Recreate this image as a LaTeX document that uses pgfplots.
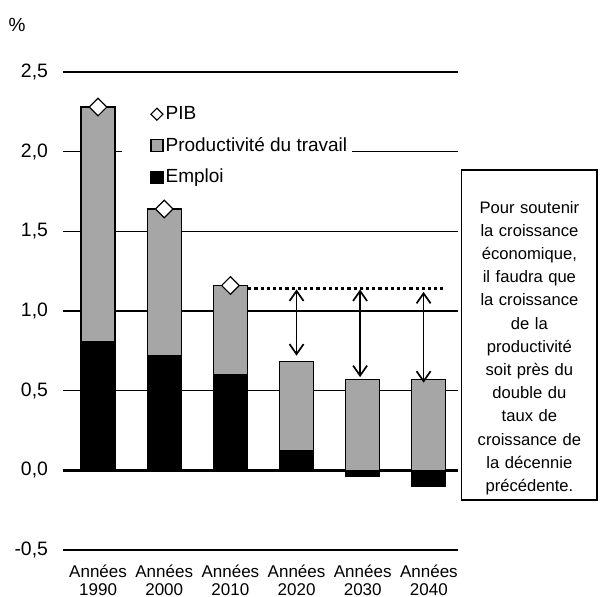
\documentclass[border=0pt]{standalone}
\usepackage{fontspec}
\setmainfont{Liberation Sans}
\usepackage{pgfplots}
\usepackage{pgfplotstable}
\pgfplotsset{compat=1.18}
\usetikzlibrary{arrows.meta}

\definecolor{grisprod}{RGB}{166,166,166}

% contributions a la croissance du PIB, en %
\pgfplotstableread{
x emploi productivite pib
0 0.81 1.47 2.28
1 0.72 0.92 1.64
2 0.60 0.56 1.16
3 0.125 0.56 0.685
4 -0.04 0.57 0.53
5 -0.10 0.57 0.47
}\decennies

\begin{document}
\begin{tikzpicture}
\begin{axis}[
    scale only axis,
    width=197.5pt,
    height=239pt,
    xmin=-0.53, xmax=5.44,
    ymin=-0.5, ymax=2.5,
    axis line style={draw=none},
    major tick length=0pt,
    ytick={-0.5,0,0.5,1,1.5,2,2.5},
    ymajorgrids,
    grid style={black, line width=0.6pt},
    extra y ticks={0},
    extra y tick labels={},
    extra y tick style={grid style={black, line width=1.6pt}},
    xtick={0,1,2,3,4,5},
    xticklabels={Années\\1990,Années\\2000,Années\\2010,Années\\2020,Années\\2030,Années\\2040},
    xticklabel style={align=center, font=\fontsize{8.5}{8.8}\selectfont, yshift=-4pt},
    yticklabel style={font=\fontsize{9.7}{11}\selectfont, xshift=-4pt},
    /pgf/number format/use comma,
    /pgf/number format/fixed,
    /pgf/number format/fixed zerofill,
    /pgf/number format/precision=1,
    /pgf/number format/assume math mode=true,
    bar width=17pt,
    clip=false,
    legend cell align=left,
    legend style={
        at={(0.205,0.942)}, anchor=north west,
        draw=none, fill=none,
        font=\fontsize{9.5}{11}\selectfont,
        row sep=5.5pt,
        /tikz/every even column/.append style={column sep=0pt},
        nodes={inner sep=1pt}
    }
]

% fond blanc de la legende (masque la grille)
\fill[white] (rel axis cs:0.149,0.753) rectangle (rel axis cs:0.732,0.952);

% productivite (empilee au-dessus de l'emploi positif)
\addplot[ybar, bar shift=0pt, fill=grisprod, draw=black, line width=0.6pt, forget plot]
    table[x=x, y expr={max(\thisrow{emploi},0)+\thisrow{productivite}}] {\decennies};
% emploi
\addplot[ybar, bar shift=0pt, fill=black, draw=black, line width=0.4pt, forget plot]
    table[x=x, y=emploi] {\decennies};
% PIB
\addplot[only marks, mark=square*, mark size=3.1pt,
    mark options={rotate=45, fill=white, draw=black, line width=0.6pt}, forget plot]
    table[x=x, y=pib, restrict x to domain=0:2] {\decennies};

% niveau de la decennie 2010
\addplot[black, line width=1.5pt, dash pattern=on 1.6pt off 1.5pt, forget plot]
    coordinates {(2.27,1.14) (5.21,1.14)};
\addplot[black, line width=0.85pt, {Straight Barb[length=5pt,width=7pt]}-{Straight Barb[length=5pt,width=7pt]}, forget plot]
    coordinates {(3,1.135) (3,0.72)};
\addplot[black, line width=0.85pt, {Straight Barb[length=5pt,width=7pt]}-{Straight Barb[length=5pt,width=7pt]}, forget plot]
    coordinates {(3.96,1.135) (3.96,0.585)};
\addplot[black, line width=0.85pt, {Straight Barb[length=5pt,width=7pt]}-{Straight Barb[length=5pt,width=7pt]}, forget plot]
    coordinates {(4.92,1.12) (4.92,0.55)};

\addlegendimage{legend image code/.code={
    \draw[black, fill=white, line width=0.6pt] (3pt,-3pt) -- (6pt,0pt) -- (3pt,3pt) -- (0pt,0pt) -- cycle;}}
\addlegendentry{PIB}
\addlegendimage{legend image code/.code={
    \draw[black, fill=grisprod, line width=0.6pt] (0pt,-3pt) rectangle (6pt,3pt);}}
\addlegendentry{Productivité du travail}
\addlegendimage{legend image code/.code={
    \draw[black, fill=black, line width=0.6pt] (0pt,-3pt) rectangle (6pt,3pt);}}
\addlegendentry{Emploi}
\end{axis}

\node[font=\fontsize{9.5}{11}\selectfont] at (-23pt,262.5pt) {\%};

\draw[black, line width=0.6pt] (199.4pt,25pt) rectangle (267pt,190pt);
\node[align=center, text width=64pt, inner sep=0pt,
      font=\fontsize{8.3}{11.6}\selectfont] at (233.2pt,101pt)
  {Pour soutenir\\la croissance\\économique,\\il faudra que\\la croissance\\de la\\productivité\\soit près du\\double du\\taux de\\croissance de\\la décennie\\précédente.};

\pgfresetboundingbox
\path[use as bounding box] (-31.5pt,-23.5pt) rectangle (268.5pt,275pt);
\end{tikzpicture}
\end{document}
